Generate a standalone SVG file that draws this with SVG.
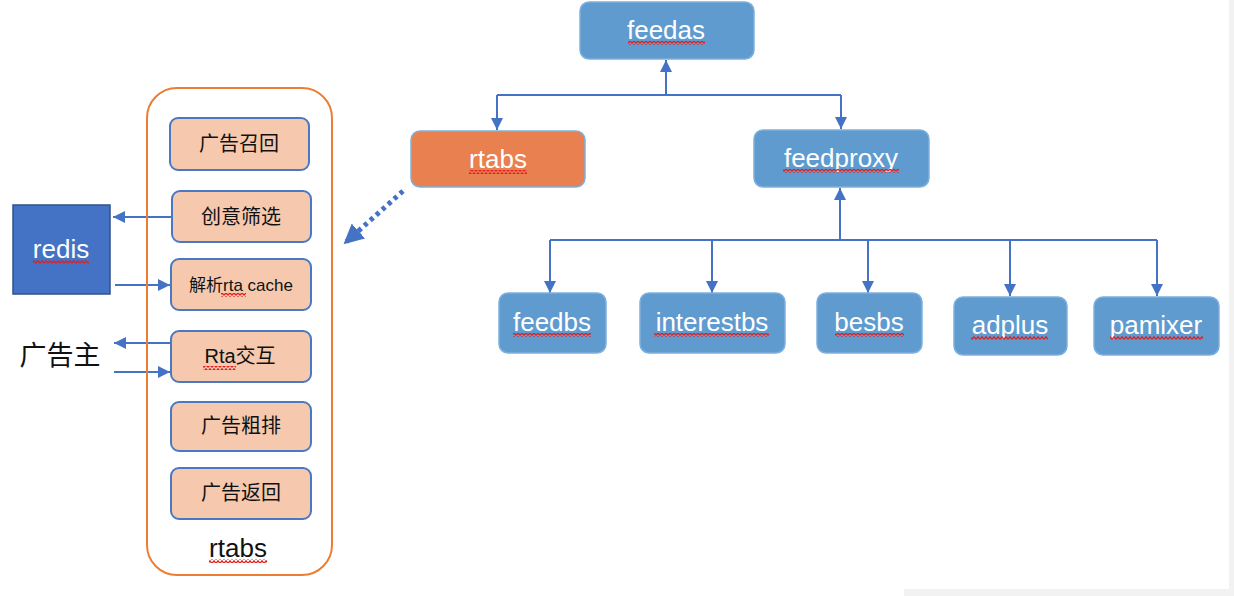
<svg xmlns="http://www.w3.org/2000/svg" width="1234" height="596" viewBox="0 0 1234 596">
<style>
.bn{fill:#5F9BCE;stroke:#7DB0DD;stroke-width:1.5}
.on{fill:#E8804F;stroke:#7DB0DD;stroke-width:1.5}
.pk{fill:#F6C9AE;stroke:#4A78C2;stroke-width:2}
.wt{font-family:"Liberation Sans",Arial,sans-serif;font-size:26px;fill:#ffffff;text-anchor:middle}
.ct{font-family:"Liberation Sans","Noto Sans CJK SC",sans-serif;font-size:20px;fill:#111111;text-anchor:middle}
.ln{fill:none;stroke:#4472C4;stroke-width:2}
.sq{fill:url(#zig)}
</style>
<defs>
<marker id="ah" viewBox="0 0 10 10" refX="10" refY="5" markerWidth="6" markerHeight="6" orient="auto" markerUnits="strokeWidth">
<path d="M0,0 L10,5 L0,10 z" fill="#4472C4"/>
</marker>
<marker id="ahd" viewBox="0 0 10 10" refX="9" refY="5" markerWidth="4" markerHeight="4" orient="auto" markerUnits="strokeWidth">
<path d="M0,0 L10,5 L0,10 z" fill="#4472C4"/>
</marker>
<pattern id="zig" patternUnits="userSpaceOnUse" width="4" height="4">
<path d="M0,3.3 L2,0.8 L4,3.3" fill="none" stroke="#E02020" stroke-width="1.3"/>
</pattern>
</defs>
<rect x="0" y="0" width="1234" height="596" fill="#ffffff"/>
<rect x="1229" y="0" width="5" height="596" fill="#F2F2F2"/>
<rect x="904" y="589" width="330" height="7" fill="#F2F2F2"/>

<g id="connectors">
<path class="ln" d="M666,95 V60" marker-end="url(#ah)"/>
<path class="ln" d="M497,95 H841"/>
<path class="ln" d="M497,95 V130" marker-end="url(#ah)"/>
<path class="ln" d="M841,95 V129" marker-end="url(#ah)"/>
<path class="ln" d="M840,240 V188" marker-end="url(#ah)"/>
<path class="ln" d="M550,240 H1157"/>
<path class="ln" d="M550,240 V293" marker-end="url(#ah)"/>
<path class="ln" d="M712,240 V293" marker-end="url(#ah)"/>
<path class="ln" d="M868,240 V293" marker-end="url(#ah)"/>
<path class="ln" d="M1010,240 V296" marker-end="url(#ah)"/>
<path class="ln" d="M1157,240 V296" marker-end="url(#ah)"/>
<path d="M403,191 L345,243" fill="none" stroke="#4472C4" stroke-width="5" stroke-dasharray="4 4" marker-end="url(#ahd)"/>
<path class="ln" d="M172,217 H113" marker-end="url(#ah)"/>
<path class="ln" d="M115,285 H170" marker-end="url(#ah)"/>
<path class="ln" d="M172,343 H114" marker-end="url(#ah)"/>
<path class="ln" d="M114,372 H170" marker-end="url(#ah)"/>
</g>

<g id="rtabs-container">
<rect x="147" y="88" width="185" height="487" rx="30" fill="none" stroke="#ED7D31" stroke-width="2"/>
<text x="238" y="557" font-family="Liberation Sans,Arial,sans-serif" font-size="26" fill="#111111" text-anchor="middle">rtabs</text>
<rect class="sq" x="209" y="559" width="58" height="4"/>
</g>

<g id="guanggao-zhaohui">
<rect class="pk" x="170" y="118" width="139" height="52" rx="8"/>
<text class="ct" x="239" y="151">广告召回</text>
</g>
<g id="chuangyi-shaixuan">
<rect class="pk" x="172" y="191" width="139" height="51" rx="8"/>
<text class="ct" x="241" y="224">创意筛选</text>
</g>
<g id="jiexi-rta-cache">
<rect class="pk" x="171" y="259" width="140" height="51" rx="8"/>
<text class="ct" x="241" y="291" style="font-size:17px">解析rta cache</text>
<rect class="sq" x="221" y="293" width="25" height="4"/>
</g>
<g id="rta-jiaohu">
<rect class="pk" x="171" y="331" width="140" height="51" rx="8"/>
<text class="ct" x="240" y="363">Rta交互</text>
<rect class="sq" x="203" y="366" width="33" height="4"/>
</g>
<g id="guanggao-cupai">
<rect class="pk" x="171" y="402" width="140" height="49" rx="8"/>
<text class="ct" x="241" y="433">广告粗排</text>
</g>
<g id="guanggao-fanhui">
<rect class="pk" x="171" y="468" width="140" height="51" rx="8"/>
<text class="ct" x="241" y="500">广告返回</text>
</g>

<g id="redis">
<rect x="13" y="205" width="97" height="89" fill="#4472C4" stroke="#2F528F" stroke-width="1.5"/>
<text class="wt" x="61" y="258">redis</text>
<rect class="sq" x="33" y="260" width="56" height="4"/>
</g>

<g id="guanggaozhu">
<text x="60" y="365" font-family="Liberation Sans,'Noto Sans CJK SC',sans-serif" font-size="27" fill="#111111" text-anchor="middle">广告主</text>
</g>

<g id="feedas">
<rect class="bn" x="580" y="2" width="174" height="57" rx="9"/>
<text class="wt" x="666" y="39">feedas</text>
<rect class="sq" x="628" y="41" width="77" height="4"/>
</g>
<g id="rtabs">
<rect class="on" x="411" y="131" width="174" height="56" rx="9"/>
<text class="wt" x="498" y="168">rtabs</text>
<rect class="sq" x="469" y="170" width="58" height="4"/>
</g>
<g id="feedproxy">
<rect class="bn" x="754" y="130" width="175" height="57" rx="9"/>
<text class="wt" x="841" y="167">feedproxy</text>
<rect class="sq" x="783" y="169" width="116" height="4"/>
</g>
<g id="feedbs">
<rect class="bn" x="499" y="293" width="107" height="60" rx="9"/>
<text class="wt" x="552" y="331">feedbs</text>
<rect class="sq" x="513" y="333" width="78" height="4"/>
</g>
<g id="interestbs">
<rect class="bn" x="640" y="293" width="145" height="60" rx="9"/>
<text class="wt" x="712" y="331">interestbs</text>
<rect class="sq" x="654" y="333" width="115" height="4"/>
</g>
<g id="besbs">
<rect class="bn" x="817" y="293" width="105" height="60" rx="9"/>
<text class="wt" x="869" y="331">besbs</text>
<rect class="sq" x="835" y="333" width="69" height="4"/>
</g>
<g id="adplus">
<rect class="bn" x="954" y="297" width="113" height="58" rx="9"/>
<text class="wt" x="1010" y="334">adplus</text>
<rect class="sq" x="971" y="336" width="77" height="4"/>
</g>
<g id="pamixer">
<rect class="bn" x="1094" y="297" width="125" height="58" rx="9"/>
<text class="wt" x="1156" y="334">pamixer</text>
<rect class="sq" x="1110" y="336" width="93" height="4"/>
</g>
</svg>
